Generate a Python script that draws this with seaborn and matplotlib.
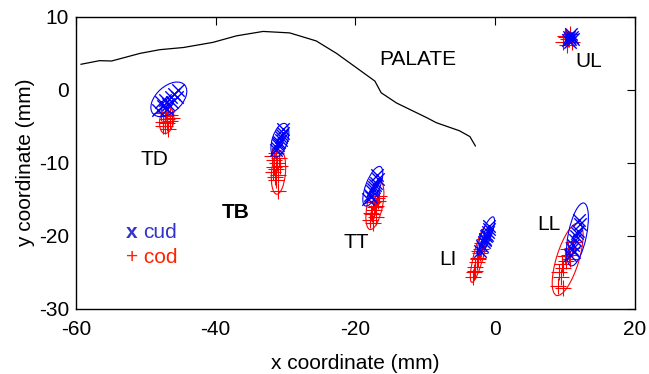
import numpy as np
import pandas as pd
import matplotlib
matplotlib.use("Agg")
import matplotlib.pyplot as plt
from matplotlib.patches import Ellipse
import seaborn as sns

# ------------------------------------------------------------
# data
# ------------------------------------------------------------
palate_x = [-59.3, -56.6, -54.9, -50.8, -48.0, -44.6, -40.4, -37.0, -33.2, -29.4,
            -25.6, -22.7, -19.8, -17.2, -16.3, -14.1, -9.8, -8.4, -5.1, -3.6, -2.8]
palate_y = [3.5, 4.0, 3.95, 5.0, 5.5, 5.8, 6.5, 7.4, 8.0, 7.8,
            6.7, 5.0, 3.0, 1.2, -0.4, -1.8, -3.8, -4.5, -5.6, -6.4, -7.7]

td_cud_x = [-48.2, -47.6, -47.2, -46.8, -46.4, -46.0, -45.4, -47.0, -46.2, -45.6, -47.8]
td_cud_y = [-2.8, -2.2, -1.4, -2.0, -1.0, -0.6, 0.0, -2.6, -1.6, -1.0, -1.6]
td_cod_x = [-47.8, -47.3, -47.0, -46.6, -46.9, -47.2, -46.5, -47.5, -46.8, -47.1, -46.3, -47.6]
td_cod_y = [-3.2, -3.6, -4.0, -3.5, -4.6, -5.0, -4.3, -4.4, -5.4, -3.0, -3.9, -5.0]

tb_cud_x = [-31.4, -31.1, -30.9, -30.6, -30.4, -31.2, -30.7, -30.3, -31.0, -30.5]
tb_cud_y = [-8.2, -7.6, -7.1, -6.5, -5.9, -7.9, -6.8, -5.4, -7.3, -6.2]
tb_cod_x = [-32.0, -31.6, -31.2, -30.8, -31.4, -31.8, -31.0, -31.5, -30.9, -31.3, -31.7, -31.1, -31.4]
tb_cod_y = [-9.0, -9.6, -10.0, -10.4, -10.8, -11.2, -11.6, -12.0, -9.4, -12.4, -10.6, -13.8, -8.6]

tt_cud_x = [-18.2, -17.9, -17.6, -17.3, -17.0, -16.8, -17.5, -17.8, -17.2, -16.9]
tt_cud_y = [-15.0, -14.4, -13.8, -13.3, -12.7, -12.2, -13.6, -14.7, -13.0, -11.7]
tt_cod_x = [-17.9, -17.6, -17.3, -17.0, -16.7, -17.5, -17.2, -16.9, -17.8, -17.4, -17.1, -16.6]
tt_cod_y = [-17.8, -17.0, -16.4, -15.9, -15.2, -18.2, -16.0, -14.8, -16.8, -15.4, -17.4, -14.6]

li_cud_x = [-2.1, -1.8, -1.6, -1.4, -1.2, -1.0, -0.8, -1.5, -1.3, -0.9]
li_cud_y = [-22.0, -21.4, -20.8, -20.4, -19.9, -19.4, -18.6, -20.6, -20.0, -19.0]
li_cod_x = [-3.2, -3.0, -2.8, -2.6, -2.4, -2.2, -2.0, -1.8, -2.9, -2.5, -2.3, -1.6]
li_cod_y = [-25.6, -25.0, -24.3, -23.6, -23.0, -22.4, -21.8, -21.0, -24.8, -23.2, -22.0, -20.4]

ll_cud_x = [10.8, 11.0, 11.2, 11.4, 11.6, 11.9, 12.2, 11.3, 11.7, 12.0]
ll_cud_y = [-22.6, -21.8, -21.2, -20.6, -20.0, -19.3, -18.4, -22.2, -19.6, -17.8]
ll_cod_x = [9.0, 9.4, 9.8, 10.2, 10.6, 11.0, 9.6, 10.0, 10.4, 10.8, 9.2, 11.2, 9.8]
ll_cod_y = [-26.8, -25.6, -24.4, -23.4, -22.6, -21.6, -23.8, -22.8, -21.8, -23.2, -25.0, -20.8, -27.2]

ul_cud_x = [10.4, 10.6, 10.8, 11.0, 11.2, 10.7, 10.9]
ul_cud_y = [6.8, 7.2, 7.0, 7.3, 6.9, 6.6, 7.6]
ul_cod_x = [9.8, 10.1, 10.4, 10.7, 11.0, 10.3, 10.6, 10.0]
ul_cod_y = [6.5, 7.2, 6.9, 7.6, 6.6, 6.2, 7.0, 7.4]

# ellipses: centre x, centre y, major, minor, angle (deg)
ell_cud = [(-46.7, -1.3, 6.0, 3.6, 40), (-30.8, -6.9, 4.8, 2.2, 72),
           (-17.5, -13.2, 5.8, 2.0, 68), (-1.3, -20.0, 5.6, 1.4, 68),
           (11.8, -19.8, 8.8, 2.6, 78), (10.8, 7.2, 1.4, 1.0, 45)]
ell_cod = [(-47.0, -4.2, 3.6, 2.0, 80), (-31.0, -11.3, 6.0, 2.0, 85),
           (-17.2, -15.8, 6.8, 2.2, 78), (-2.3, -22.5, 8.0, 1.4, 75),
           (10.4, -23.2, 10.4, 3.2, 72), (10.5, 7.0, 1.8, 1.2, 60)]

region_labels = ["PALATE", "TD", "TB", "TT", "LI", "LL", "UL"]
label_x = [-11.1, -48.7, -37.1, -19.8, -6.8, 7.7, 13.4]
label_y = [4.1, -9.5, -16.8, -20.9, -23.2, -18.4, 3.85]

# ------------------------------------------------------------
# tables
# ------------------------------------------------------------
cud = pd.DataFrame({
    "x": td_cud_x + tb_cud_x + tt_cud_x + li_cud_x + ll_cud_x + ul_cud_x,
    "y": td_cud_y + tb_cud_y + tt_cud_y + li_cud_y + ll_cud_y + ul_cud_y,
})
cod = pd.DataFrame({
    "x": td_cod_x + tb_cod_x + tt_cod_x + li_cod_x + ll_cod_x + ul_cod_x,
    "y": td_cod_y + tb_cod_y + tt_cod_y + li_cod_y + ll_cod_y + ul_cod_y,
})
palate = pd.DataFrame({"x": palate_x, "y": palate_y})

# ------------------------------------------------------------
# plot
# ------------------------------------------------------------
sns.set_style("white")
plt.rcParams["font.family"] = ["Liberation Sans", "DejaVu Sans"]
plt.rcParams["axes.unicode_minus"] = False
plt.rcParams["text.color"] = "black"
plt.rcParams["axes.labelcolor"] = "black"
plt.rcParams["xtick.color"] = "black"
plt.rcParams["ytick.color"] = "black"

FS = 15

fig, ax = plt.subplots(figsize=(6.49, 3.74), dpi=100)
fig.subplots_adjust(left=0.117, right=0.978, top=0.955, bottom=0.174)

sns.lineplot(data=palate, x="x", y="y", sort=False, estimator=None,
             color="black", lw=0.9, ax=ax)

sns.scatterplot(data=cod, x="x", y="y", marker="+", color="red",
                s=130, linewidth=0.8, ax=ax, zorder=3)
sns.scatterplot(data=cud, x="x", y="y", marker="x", color="blue",
                s=80, linewidth=1.0, ax=ax, zorder=4)

for cx, cy, w, h, a in ell_cod:
    ax.add_patch(Ellipse((cx, cy), w, h, angle=a, fill=False,
                         edgecolor="red", lw=0.8, zorder=3))
for cx, cy, w, h, a in ell_cud:
    ax.add_patch(Ellipse((cx, cy), w, h, angle=a, fill=False,
                         edgecolor="blue", lw=0.8, zorder=4))

for lab, lx, ly in zip(region_labels, label_x, label_y):
    ax.text(lx, ly, lab, fontsize=FS, ha="center", va="center",
            fontweight="bold" if lab == "TB" else "normal")

# legend written as text, like the original
ax.text(-52.8, -19.5, "x", color="#3333cc", fontsize=FS, fontweight="bold", va="center")
ax.text(-50.4, -19.5, "cud", color="#3333cc", fontsize=FS, va="center")
ax.text(-52.8, -22.9, "+ cod", color="#ff2200", fontsize=FS, va="center")

ax.set_xlim(-60, 20)
ax.set_ylim(-30, 10)
ax.set_xticks([-60, -40, -20, 0, 20])
ax.set_yticks([-30, -20, -10, 0, 10])
ax.set_xlabel("x coordinate (mm)", fontsize=FS, labelpad=11)
ax.set_ylabel("y coordinate (mm)", fontsize=FS, labelpad=3)
ax.tick_params(axis="x", direction="in", top=True, length=6, width=0.8,
               labelsize=FS, pad=8)
ax.tick_params(axis="y", direction="in", right=True, length=6, width=0.8,
               labelsize=FS, pad=5)
for sp in ax.spines.values():
    sp.set_color("black")
    sp.set_linewidth(1.0)

plt.savefig("out.png", dpi=100)
